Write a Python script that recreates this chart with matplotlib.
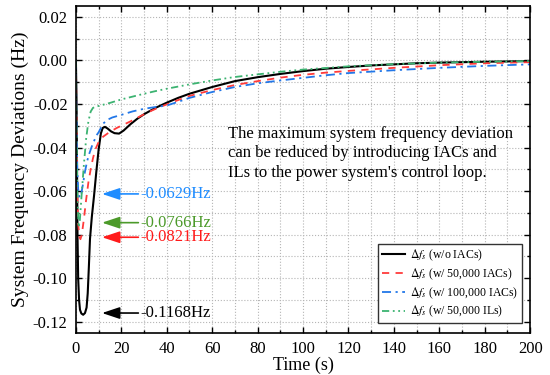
import numpy as np
import matplotlib
matplotlib.use('Agg')
import matplotlib.pyplot as plt
from matplotlib.ticker import MultipleLocator

plt.rcParams['font.family'] = ['Liberation Serif', 'DejaVu Serif']
plt.rcParams['mathtext.fontset'] = 'stix'
plt.rcParams['axes.unicode_minus'] = False

# frequency deviation (s, Hz)
t_noiac = [0, 0.3, 0.5, 0.7, 1.0, 1.4, 1.8, 2.4, 3.2, 4.0, 4.7, 5.2, 5.7, 6.2, 7, 8, 9, 10, 11, 11.8,
           12.8, 14, 15.5, 17, 19, 21, 24, 27, 30, 35, 40, 45, 50, 60, 70, 80, 90, 100, 110, 120,
           130, 140, 150, 160, 180, 200]
df_noiac = [0, -0.02, -0.05, -0.08, -0.100, -0.110, -0.1145, -0.1162, -0.1168, -0.1160, -0.1135,
            -0.107, -0.095, -0.082, -0.072, -0.062, -0.051, -0.041, -0.0335, -0.031, -0.0305,
            -0.0313, -0.0326, -0.0334, -0.0336, -0.0322, -0.0293, -0.0268, -0.0247, -0.0218,
            -0.0194, -0.0172, -0.0153, -0.0122, -0.0095, -0.0077, -0.0062, -0.0049, -0.0038,
            -0.0030, -0.0023, -0.0018, -0.0013, -0.0010, -0.0006, -0.0003]

t_iac50 = [0, 0.3, 0.6, 1.0, 1.5, 2.0, 2.6, 3.5, 4.5, 5.5, 6.5, 7.5, 8.5, 10, 12, 14, 16, 18, 20,
           24, 28, 32, 36, 40, 45, 50, 60, 70, 80, 90, 100, 110, 120, 140, 160, 180, 200]
df_iac50 = [0, -0.03, -0.06, -0.075, -0.081, -0.0821, -0.080, -0.073, -0.064, -0.056, -0.050,
            -0.045, -0.041, -0.0375, -0.035, -0.0335, -0.0322, -0.031, -0.0300, -0.0280, -0.0258,
            -0.0237, -0.0218, -0.0202, -0.0182, -0.0163, -0.0136, -0.0113, -0.0095, -0.0079,
            -0.0066, -0.0056, -0.0048, -0.0034, -0.0022, -0.0013, -0.0008]

t_iac100 = [0, 0.3, 0.6, 1.0, 1.6, 2.2, 3, 4, 5, 6, 7, 8, 9, 10, 11, 12, 14, 16, 20, 25, 30, 35,
            40, 45, 50, 60, 70, 80, 90, 100, 110, 120, 140, 160, 180, 200]
df_iac100 = [0, -0.03, -0.05, -0.059, -0.0629, -0.0622, -0.0575, -0.051, -0.046, -0.0425, -0.0395,
             -0.037, -0.0345, -0.033, -0.031, -0.029, -0.0272, -0.0262, -0.0250, -0.0234, -0.0222,
             -0.0214, -0.0207, -0.0190, -0.0172, -0.0145, -0.0122, -0.0105, -0.0092, -0.0080,
             -0.0068, -0.0058, -0.0045, -0.0034, -0.0025, -0.0018]

t_il50 = [0, 0.3, 0.7, 1.2, 1.7, 2.5, 3.5, 4.5, 5.5, 6.5, 7.5, 8.5, 10, 15, 20, 25, 30, 35, 40, 50,
          60, 70, 80, 90, 100, 120, 140, 160, 180, 200]
df_il50 = [0, -0.035, -0.065, -0.0766, -0.074, -0.062, -0.048, -0.036, -0.028, -0.0235, -0.0218,
           -0.0213, -0.0209, -0.0195, -0.0179, -0.0166, -0.0153, -0.0141, -0.0130, -0.0110,
           -0.0092, -0.0076, -0.0064, -0.0052, -0.0042, -0.0027, -0.0017, -0.0010, -0.0006, -0.0003]

# peak labels
peak_txt = ['-0.0629Hz', '-0.0766Hz', '-0.0821Hz', '-0.1168Hz']
peak_y = [-0.0613, -0.0745, -0.0812, -0.1160]
peak_col = ['#1E8CFF', '#4C9A2A', '#FF1A1A', 'black']

fig = plt.figure(figsize=(5.5, 3.75), dpi=100)
ax = fig.add_axes([0.138, 0.113, 0.826, 0.871])

ax.plot(t_noiac, df_noiac, color='black', lw=1.5, label=r'$\Delta f_s$ (w/o IACs)')
ax.plot(t_iac50, df_iac50, color='#FF3B3B', lw=1.3, dashes=(4, 3.5), label=r'$\Delta f_s$ (w/ 50,000 IACs)')
ax.plot(t_iac100, df_iac100, color='#2277E8', lw=1.3, dashes=(5, 2.5, 1.2, 2.5),
        label=r'$\Delta f_s$ (w/ 100,000 IACs)')
ax.plot(t_il50, df_il50, color='#3CB371', lw=1.3, dashes=(4, 2, 1, 2, 1, 2),
        label=r'$\Delta f_s$ (w/ 50,000 ILs)')

for txt, yy, c in zip(peak_txt, peak_y, peak_col):
    ax.annotate('', xy=(11.5, yy), xytext=(27.5, yy),
                arrowprops=dict(arrowstyle='-|>,head_length=0.9,head_width=0.3', color=c, lw=1.2,
                                mutation_scale=12, shrinkA=0, shrinkB=0))
    ax.text(28.5, yy, txt, color=c, fontsize=12, va='center', ha='left')

ax.text(67, -0.0427, "The maximum system frequency deviation\ncan be reduced by introducing IACs and\n"
        "ILs to the power system's control loop.", fontsize=12, va='center', ha='left',
        linespacing=1.3)

ax.set_xlim(0, 200)
ax.set_ylim(-0.125, 0.025)
ax.xaxis.set_major_locator(MultipleLocator(20))
ax.xaxis.set_minor_locator(MultipleLocator(10))
ax.yaxis.set_major_locator(MultipleLocator(0.02))
ax.yaxis.set_minor_locator(MultipleLocator(0.01))
ax.yaxis.set_major_formatter(matplotlib.ticker.FormatStrFormatter('%.2f'))
ax.tick_params(which='both', direction='in', top=True, right=True, labelsize=12, width=1)
ax.tick_params(which='major', length=4, pad=6)
ax.tick_params(which='minor', length=2.5)
ax.grid(which='both', ls=':', color='#b5b5b5', lw=0.8)
for s in ax.spines.values():
    s.set_linewidth(1.2)

ax.set_xlabel('Time (s)', fontsize=13, labelpad=0)
ax.set_ylabel('System Frequency Deviations (Hz)', fontsize=14, labelpad=3)

leg = ax.legend(loc='lower right', bbox_to_anchor=(0.983, 0.028), fontsize=8.5, frameon=True,
                fancybox=False, edgecolor='#333333', framealpha=1, handlelength=2.0,
                labelspacing=0.28, borderpad=0.35, handletextpad=0.4, borderaxespad=0)
leg.get_frame().set_linewidth(1.0)

fig.savefig('out.png', dpi=100)
